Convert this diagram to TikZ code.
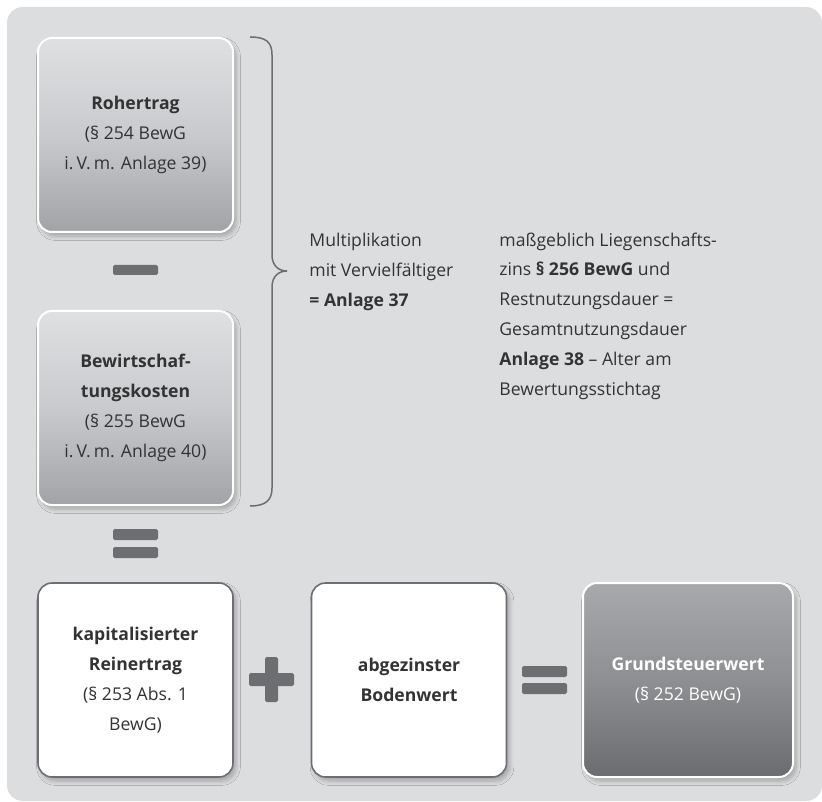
\documentclass[tikz,border=0pt]{standalone}
\usepackage{fontspec}
\setmainfont{Open Sans}
\usepackage{tikz}
\usetikzlibrary{shadows.blur}
\definecolor{panelgray}{HTML}{DCDDDF}
\definecolor{symgray}{HTML}{6D6E71}
\definecolor{txtgray}{HTML}{333335}
\definecolor{boxtop}{HTML}{DFE0E2}
\definecolor{boxmid}{HTML}{C9CACD}
\definecolor{boxbot}{HTML}{A2A3A7}
\definecolor{sumtop}{HTML}{A8A9AC}
\definecolor{summid}{HTML}{8E8F92}
\definecolor{sumbot}{HTML}{6B6C70}

\begin{document}
\begin{tikzpicture}[
    x=0.5pt, y=-0.5pt,
    every node/.style={font=\fontsize{8.8}{14.9}\selectfont, text=txtgray},
    box/.style={rounded corners=7pt, minimum width=97.5pt, minimum height=97pt, align=center, inner sep=2pt,
        blur shadow={shadow xshift=1.5pt, shadow yshift=-2pt, shadow blur steps=6, shadow opacity=25}},
    greybox/.style={box, draw=white, line width=1pt, top color=boxtop, bottom color=boxbot, middle color=boxmid},
    whitebox/.style={box, draw=symgray, line width=0.8pt, fill=white},
    sumbox/.style={box, draw=white, line width=1pt, minimum width=105pt, top color=sumtop, bottom color=sumbot, middle color=summid},
    bar/.style={fill=symgray, rounded corners=0.8pt, inner sep=0pt, minimum width=22.5pt, minimum height=5.5pt},
    brace/.style={draw=symgray, line width=0.75pt},
    note/.style={anchor=west, align=left, inner sep=0pt},
]
\useasboundingbox (0,0) rectangle (822,801);

% Background panel
\fill[panelgray, rounded corners=8pt] (7,7) rectangle (822,801);

% === Upper column ===
\node[greybox] (roh) at (135.5,135) {\textbf{Rohertrag}\\(§ 254 BewG\\i.\,V.\,m. Anlage 39)};
\node[bar, minimum height=5pt] (minus) at (135.5,270) {};
\node[greybox] (bew) at (135.5,408) {\textbf{Bewirtschaf-}\\\textbf{tungskosten}\\(§ 255 BewG\\i.\,V.\,m. Anlage 40)};

\node[bar] (eqa) at (135.5,534.5) {};
\node[bar] (eqb) at (135.5,552.5) {};

% Brace
\draw[brace] (250,37) .. controls (266,37) and (272,42) .. (272,55) -- (272,255)
    .. controls (272,265) and (278,271) .. (287,271)
    .. controls (278,271) and (272,277) .. (272,287) -- (272,488)
    .. controls (272,500) and (266,506) .. (250,506);

% Labels
\node[note] (mult) at (309,272) {Multiplikation\\mit Vervielfältiger\\\textbf{= Anlage 37}};
\node[note] (zins) at (499,316) {maßgeblich Liegenschafts-\\zins \textbf{§ 256 BewG} und\\Restnutzungsdauer =\\Gesamtnutzungsdauer\\\textbf{Anlage 38} – Alter am\\Bewertungsstichtag};

% === Lower row ===
\node[whitebox] (kap) at (135.5,680) {\textbf{kapitalisierter}\\\textbf{Reinertrag}\\(§ 253 Abs. 1\\BewG)};
\node[bar, minimum height=6.5pt] (plush) at (271.5,679.5) {};
\node[bar, minimum width=6.5pt, minimum height=22.5pt] (plusv) at (271.5,679.5) {};
\node[whitebox] (boden) at (409,680) {\textbf{abgezinster}\\\textbf{Bodenwert}};
\node[bar] (eqc) at (544.5,671.5) {};
\node[bar] (eqd) at (544.5,688.5) {};
\node[sumbox, text=white] (gsw) at (688,680) {\textbf{Grundsteuerwert}\\(§ 252 BewG)};

\end{tikzpicture}
\end{document}
